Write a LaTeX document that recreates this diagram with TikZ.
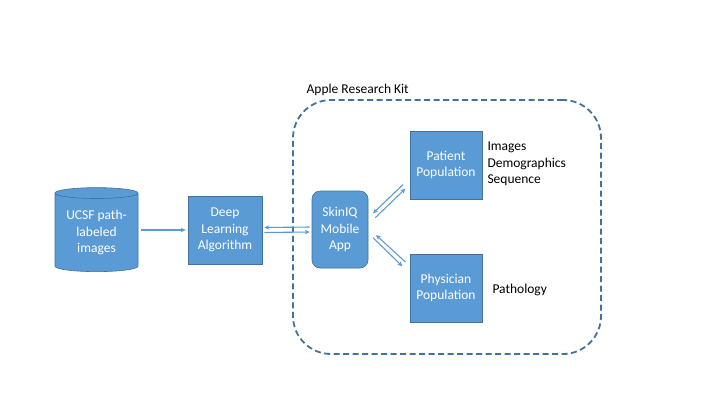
\documentclass[tikz,border=0pt]{standalone}
\usepackage{fontspec}
\setmainfont{Carlito}
\usetikzlibrary{shapes.geometric,arrows.meta}
\definecolor{boxblue}{HTML}{5B9BD5}
\definecolor{edgeblue}{HTML}{41719C}

\begin{document}
\begin{tikzpicture}[x=1pt,y=-1pt,font=\fontsize{13.5}{16.3}\selectfont,
    box/.style={draw=edgeblue,fill=boxblue,text=white,align=center,inner sep=0pt,line width=0.6pt},
    arr/.style={boxblue,line width=1.1pt,-{Stealth[length=5pt,width=4.5pt]}}]
    \useasboundingbox (0,0) rectangle (720,405);

    % research kit frame
    \node (kit) at (447,227) [draw=edgeblue,dashed,dash pattern=on 6pt off 3.5pt,line width=1.8pt,
        rounded corners=38pt,minimum width=308pt,minimum height=254pt] {};
    \node (kitlabel) at ([shift={(11,-9)}]kit.north west) [anchor=west] {Apple Research Kit};

    \node (db) at (96.5,232.5) [box,cylinder,shape border rotate=90,aspect=0.18,
        minimum width=83pt,minimum height=84pt] {UCSF path-\\labeled\\images};
    \node (dl) at (225,230) [box,minimum width=74pt,minimum height=68pt] {Deep\\Learning\\Algorithm};
    \node (app) at (340,229.5) [box,rounded corners=8pt,minimum width=56pt,minimum height=77pt] {SkinIQ\\Mobile\\App};
    \node (patient) at (446,165) [box,minimum width=72pt,minimum height=68pt] {Patient\\Population};
    \node (physician) at (446,288) [box,minimum width=72pt,minimum height=68pt] {Physician\\Population};

    \node (patinfo) at ([shift={(5,-1)}]patient.east) [anchor=west,align=left,inner sep=0pt] {Images\\Demographics\\Sequence};
    \node (physinfo) at ([shift={(10,2)}]physician.east) [anchor=west,inner sep=0pt] {Pathology};

    \draw [arr,shorten <=3pt,shorten >=2pt] (db.east |- dl.west) -- (dl.west);

    \draw [arr] ([shift={(-2,-2.5)}]app.west) -- ([shift={(2,-2.5)}]dl.east);
    \draw [arr] ([shift={(2,2.5)}]dl.east) -- ([shift={(-2,2.5)}]app.west);

    \draw [arr] ([shift={(-6.7,-14.7)}]patient.south west) -- ([shift={(4.7,-16.2)}]app.east);
    \draw [arr] ([shift={(7,-11.8)}]app.east) -- ([shift={(-4.3,-10.7)}]patient.south west);

    \draw [arr] ([shift={(-4.3,8.3)}]physician.north west) -- ([shift={(7.7,5.5)}]app.east);
    \draw [arr] ([shift={(4.7,8.2)}]app.east) -- ([shift={(-7.3,12.7)}]physician.north west);
\end{tikzpicture}
\end{document}
